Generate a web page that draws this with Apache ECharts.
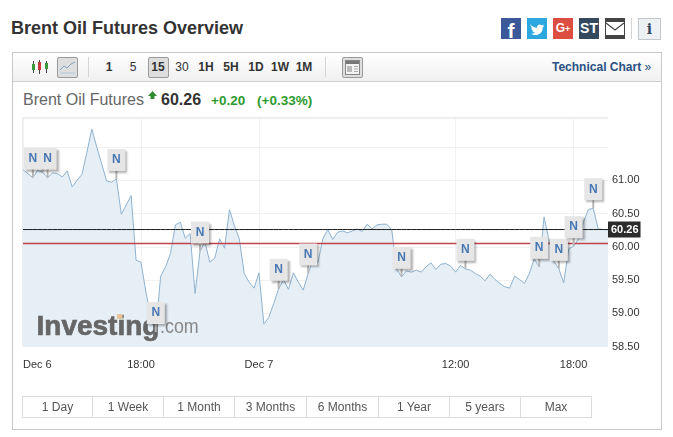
<!DOCTYPE html>
<html>
<head>
<meta charset="utf-8">
<title>Brent Oil Futures Overview</title>
<script src="https://cdn.jsdelivr.net/npm/echarts@6/dist/echarts.min.js"></script>
<style>
    html, body { margin: 0; padding: 0; background: #fff; font-family: "Liberation Sans", Arial, sans-serif; }
    #page { position: relative; width: 673px; height: 437px; overflow: hidden; }
    #page > * { position: absolute; }
    #chart { left: 0; top: 0; width: 673px; height: 437px; }
    .title { left: 11px; top: 18px; font-size: 18px; font-weight: bold; color: #333; line-height: 21px; white-space: nowrap; }
    .share { top: 18px; width: 20px; height: 21px; color: #fff; font-weight: bold; text-align: center; line-height: 21px; overflow: hidden; }
    .frame { left: 12px; top: 52px; width: 648px; height: 376px; border: 1px solid #c9c9c9; }
    .toolbar { left: 13px; top: 53px; width: 648px; height: 28px; background: linear-gradient(#fff, #f0f0f0); border-bottom: 1px solid #d0d0d0; }
    .res { top: 59px; width: 24px; text-align: center; font-size: 12px; font-weight: bold; color: #333; line-height: 16px; }
    .btn { top: 57px; width: 19px; height: 19px; background: #dedede; border: 1px solid #9a9a9a; border-radius: 2px; }
    .divider { top: 57px; width: 1px; height: 20px; background: #d4d4d4; }
    .tech { left: 552px; top: 59px; font-size: 12px; font-weight: bold; color: #2a5082; line-height: 16px; white-space: nowrap; }
    .name { left: 23px; top: 90px; font-size: 16px; color: #666; line-height: 20px; white-space: nowrap; }
    .last { left: 161px; top: 90px; font-size: 16px; font-weight: bold; color: #333; line-height: 20px; }
    .chg { top: 92px; font-size: 13.500px; font-weight: bold; color: #2e9a2e; line-height: 17px; white-space: nowrap; }
    .ranges { left: 22px; top: 396px; display: flex; border: 1px solid #dcdcdc; height: 20px; }
    .ranges span { display: block; box-sizing: border-box; height: 20px; line-height: 20px; text-align: center; font-size: 12px; color: #555; border-left: 1px solid #dcdcdc; }
    .ranges span:first-child { border-left: 0; }
</style>
</head>
<body>
<div id="page">
    <div class="title">Brent Oil Futures Overview</div>

    <div class="share" style="left:501px;background:#3b5998;font-size:21px;line-height:26px;">f</div>
    <div class="share" style="left:527px;background:#2ca7e0;">
        <svg width="20" height="21" viewBox="0 0 20 21"><path fill="#fff" d="M3 6c2 2.500 4.500 3.700 7 3.800C9.600 7 12.800 5.300 14.700 7.300c.8-.2 1.500-.4 2.100-.8-.2.800-.7 1.400-1.300 1.800.6 0 1.200-.2 1.800-.5-.4.700-1 1.200-1.600 1.600C15.800 14 12.500 17 8.500 17c-1.700 0-3.100-.4-4.500-1.300 1.500.1 2.900-.3 4-1.200-1.300 0-2.400-.9-2.800-2 .5.100 .9.100 1.300 0-1.400-.4-2.400-1.600-2.400-3 .4.200 .9.400 1.300.4C4 9 3.500 7.500 3 6z"/></svg>
    </div>
    <div class="share" style="left:553px;background:#dc4e41;font-size:12px;">G<span style="font-size:9px;">+</span></div>
    <div class="share" style="left:579px;background:#34495e;font-size:14px;">ST</div>
    <div class="share" style="left:605px;background:#444;">
        <svg width="20" height="21" viewBox="0 0 20 21"><rect x="1" y="4" width="18" height="13" fill="#fff"/><path d="M1 5l9 7 9-7" fill="none" stroke="#444" stroke-width="1.200"/></svg>
    </div>
    <div class="divider" style="left:631px;top:18px;height:21px;"></div>
    <div class="share" style="left:638px;width:21px;background:#eef1f4;border:1px solid #c4c8cc;color:#34495e;font-family:'DejaVu Serif',serif;font-size:14px;height:20px;line-height:20px;">i</div>

    <div class="frame"></div>
    <div class="toolbar"></div>
    <svg style="left:31px;top:59px;" width="18" height="16" viewBox="0 0 18 16">
        <path d="M2.500 2v12M8.500 1v14M15.500 2v12" stroke="#444" fill="none"/>
        <rect x="1" y="5" width="3" height="6" fill="#3a9a3a"/>
        <rect x="7" y="3" width="3" height="8" fill="#c83a3a"/>
        <rect x="14" y="4" width="3" height="6" fill="#3a9a3a"/>
    </svg>
    <div class="btn" style="left:57px;"></div>
    <svg style="left:59px;top:59px;" width="17" height="16" viewBox="0 0 17 16">
        <path d="M1 11l4-4 3 2 4-4 4-2" stroke="#7fa3c4" fill="none"/><path d="M1 14h15" stroke="#b5c8d8"/>
    </svg>
    <div class="divider" style="left:88px;"></div>
    <div class="btn" style="left:148px;"></div>
    <div class="res" style="left:97px;">1</div>
    <div class="res" style="left:121px;font-weight:normal;">5</div>
    <div class="res" style="left:146px;">15</div>
    <div class="res" style="left:170px;font-weight:normal;">30</div>
    <div class="res" style="left:194px;">1H</div>
    <div class="res" style="left:219px;">5H</div>
    <div class="res" style="left:244px;">1D</div>
    <div class="res" style="left:268px;">1W</div>
    <div class="res" style="left:292px;">1M</div>
    <div class="divider" style="left:325px;"></div>
    <div class="btn" style="left:342px;"></div>
    <svg style="left:345px;top:60px;" width="15" height="15" viewBox="0 0 15 15">
        <rect x="0.500" y="0.500" width="14" height="14" fill="#f4f4f4" stroke="#888"/>
        <rect x="1" y="1" width="13" height="3" fill="#777"/>
        <rect x="2" y="6" width="5" height="6" fill="#bbb"/>
        <path d="M9 6.500h4M9 9h4M9 11.500h4" stroke="#aaa"/>
    </svg>
    <div class="tech">Technical Chart <span style="font-weight:normal;">»</span></div>

    <div class="name">Brent Oil Futures</div>
    <svg style="left:148px;top:91px;" width="9" height="9" viewBox="0 0 9 9"><path d="M4.500 0L9 5H6.500v3h-4V5H0z" fill="#2e8b2e"/></svg>
    <div class="last">60.26</div>
    <div class="chg" style="left:211px;">+0.20</div>
    <div class="chg" style="left:257px;">(+0.33%)</div>

    <div id="chart"></div>

    <div class="ranges">
        <span style="width:69px;">1 Day</span><span style="width:71px;">1 Week</span><span style="width:71px;">1 Month</span><span style="width:72px;">3 Months</span><span style="width:72px;">6 Months</span><span style="width:71px;">1 Year</span><span style="width:71px;">5 years</span><span style="width:71px;">Max</span>
    </div>
</div>

<script>
    // 15 minute closes
    const prices = [
        61.16, 61.10, 61.04, 61.15, 61.12, 61.04, 61.11, 61.10, 61.05, 61.14,
        60.90, 61.00, 61.09, 61.42, 61.77, 61.50, 61.25, 60.99, 60.97, 61.02,
        60.49, 60.63, 60.77, 59.80, 59.77, 59.32, 58.97, 58.72, 59.56, 59.70,
        59.90, 60.33, 60.37, 60.13, 60.20, 59.30, 59.93, 60.08, 59.77, 59.83,
        60.12, 59.98, 60.56, 60.32, 60.12, 59.60, 59.47, 59.38, 59.61, 58.84,
        58.94, 59.15, 59.37, 59.51, 59.36, 59.61, 59.47, 59.35, 59.60, 59.80,
        59.77, 60.12, 60.26, 60.11, 60.22, 60.24, 60.21, 60.24, 60.27, 60.23,
        60.34, 60.27, 60.33, 60.34, 60.34, 60.26, 59.67, 59.55, 59.64, 59.62,
        59.65, 59.62, 59.70, 59.76, 59.66, 59.74, 59.75, 59.71, 59.62, 59.72,
        59.67, 59.65, 59.60, 59.56, 59.49, 59.59, 59.51, 59.45, 59.40, 59.38,
        59.56, 59.51, 59.45, 59.60, 59.82, 59.70, 60.45, 60.10, 59.78, 59.67,
        59.46, 59.97, 60.01, 60.12, 60.37, 60.56, 60.58, 60.27, 60.26, 60.26
    ];
    const tickIndex = [0, 24, 48, 88, 112];
    const tickLabels = ['Dec 6', '18:00', 'Dec 7', '12:00', '18:00'];
    const newsIndex = [2, 5, 19, 27, 36, 52, 58, 77, 90, 105, 109, 112, 116];
    const lastPrice = 60.26;
    const prevClose = 60.05;

    const categories = prices.map((p, i) => {
        const at = tickIndex.indexOf(i);
        return at < 0 ? '' : tickLabels[at];
    });

    function drawFlag(params, api) {
        const pt = api.coord([api.value(0), api.value(1)]);
        const x = pt[0], y = pt[1];
        return {
            type: 'group',
            children: [
                { type: 'line', shape: { x1: x, y1: y - 9, x2: x, y2: y }, style: { stroke: '#b8b8b8', lineWidth: 2 } },
                {
                    type: 'rect',
                    shape: { x: x - 9, y: y - 30, width: 18, height: 22 },
                    style: { fill: '#e6e6e6', shadowBlur: 2, shadowOffsetX: 2, shadowOffsetY: 2, shadowColor: 'rgba(0,0,0,0.3)' }
                },
                {
                    type: 'text',
                    x: x, y: y - 19,
                    style: { text: 'N', fill: '#4878b4', font: 'bold 12px "Liberation Sans"', align: 'center', verticalAlign: 'middle' }
                }
            ]
        };
    }

    // flat line series for the last price and the previous close
    function priceLine(value, color, width, endLabel) {
        return {
            type: 'line',
            data: prices.map(() => value),
            symbol: 'none',
            z: 3,
            lineStyle: { color: color, width: width },
            endLabel: endLabel
        };
    }

    const myChart = echarts.init(document.getElementById('chart'));
    myChart.setOption({
        animation: false,
        grid: { left: 23, top: 118.7, width: 585, height: 228 },
        xAxis: {
            type: 'category',
            data: categories,
            boundaryGap: false,
            axisLine: { show: false },
            axisTick: { show: false },
            axisLabel: {
                interval: i => tickIndex.includes(i),
                alignMinLabel: 'left',
                margin: 13,
                color: '#333',
                fontFamily: 'Liberation Sans',
                fontSize: 11
            },
            splitLine: { show: true, interval: i => tickIndex.includes(i), lineStyle: { color: '#f1f1f1' } }
        },
        yAxis: {
            type: 'value',
            position: 'right',
            min: 58.5,
            max: 61.925,
            interval: 0.5,
            axisLine: { show: false },
            axisTick: { show: false },
            axisLabel: {
                margin: 4,
                color: '#333',
                fontFamily: 'Liberation Sans',
                fontSize: 11,
                formatter: v => (v <= 61 ? v.toFixed(2) : '')
            },
            splitLine: { lineStyle: { color: '#f1f1f1' } }
        },
        graphic: [
            { type: 'polyline', silent: true, z: 1, shape: { points: [[22.5, 346.5], [22.5, 117.5], [608, 117.5]] }, style: { fill: 'none', stroke: '#ececec' } },
            { type: 'text', silent: true, z: 5, x: 36.5, y: 313, style: { text: 'Investing', fill: '#666', stroke: '#666', lineWidth: 0.7, font: 'bold 28px "Liberation Sans"' } },
            { type: 'rect', silent: true, z: 6, shape: { x: 117, y: 314, width: 5.5, height: 5 }, style: { fill: '#e6c49a' } },
            { type: 'text', silent: true, z: 5, x: 160, y: 317, scaleX: 0.85, style: { text: '.com', fill: '#888', font: '21px "Liberation Sans"' } }
        ],
        series: [
            {
                type: 'line',
                data: prices,
                symbol: 'none',
                z: 2,
                lineStyle: { color: '#8fb2cf', width: 1 },
                areaStyle: { color: '#e6eef6', opacity: 1 }
            },
            priceLine(prevClose, '#c0444c', 1.5, { show: false }),
            priceLine(lastPrice, '#1c1c1c', 1, {
                show: true,
                distance: 0,
                formatter: lastPrice.toFixed(2),
                color: '#fff',
                backgroundColor: '#2b2b2b',
                fontFamily: 'Liberation Sans',
                fontSize: 11,
                fontWeight: 'bold',
                padding: [3, 2, 2, 3]
            }),
            {
                type: 'custom',
                data: newsIndex.map(i => [i, prices[i]]),
                renderItem: drawFlag,
                clip: false,
                silent: true,
                z: 10
            }
        ]
    });
</script>
</body>
</html>
